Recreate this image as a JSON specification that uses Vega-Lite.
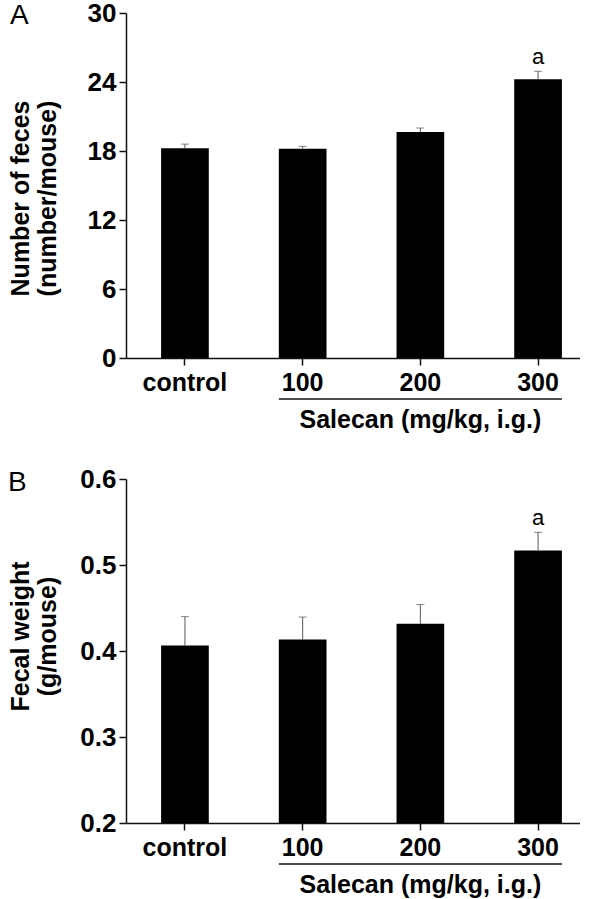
{
  "$schema": "https://vega.github.io/schema/vega-lite/v6.json",
  "autosize": {"type": "pad"},
  "padding": {"left": 8, "top": 0, "right": 0, "bottom": 0},
  "background": "white",
  "bounds": "flush",
  "spacing": 121,
  "config": {
    "view": {"stroke": null},
    "font": "Liberation Sans",
    "axis": {
      "labelFont": "Liberation Sans",
      "labelFontWeight": "bold",
      "labelFontSize": 25,
      "labelColor": "black",
      "titleFont": "Liberation Sans",
      "titleFontWeight": "bold",
      "titleFontSize": 25,
      "titleColor": "black",
      "domainColor": "#111",
      "domainWidth": 1.5,
      "tickColor": "#111",
      "tickWidth": 1.5,
      "tickSize": 7,
      "grid": false
    }
  },
  "datasets": {
    "feces": [
      {"group": "control", "value": 18.23, "err": 18.6, "sig": ""},
      {"group": "100", "value": 18.2, "err": 18.4, "sig": ""},
      {"group": "200", "value": 19.65, "err": 20.0, "sig": ""},
      {"group": "300", "value": 24.23, "err": 24.93, "sig": "a"}
    ],
    "weight": [
      {"group": "control", "value": 0.4065, "err": 0.44, "sig": ""},
      {"group": "100", "value": 0.4135, "err": 0.4395, "sig": ""},
      {"group": "200", "value": 0.4317, "err": 0.454, "sig": ""},
      {"group": "300", "value": 0.517, "err": 0.538, "sig": "a"}
    ],
    "bracket": [
      {"from": "100", "to": "300", "mid": "200", "label": "Salecan (mg/kg, i.g.)"}
    ]
  },
  "vconcat": [
    {
      "width": 454,
      "height": 345,
      "title": {"text": "A", "anchor": "start", "frame": "group", "orient": "top", "offset": 0, "dx": -116, "dy": 52, "baseline": "alphabetic", "fontSize": 28, "fontWeight": "normal", "font": "Liberation Sans", "color": "black"},
      "layer": [
        {
          "data": {"name": "feces"},
          "mark": {"type": "bar", "color": "black"},
          "encoding": {
            "x": {"field": "group", "type": "nominal", "sort": ["control", "100", "200", "300"],
              "scale": {"domain": ["control", "100", "200", "300"], "paddingInner": 0.595, "paddingOuter": 0.226, "align": 0.66},
              "axis": {"title": null, "labelAngle": 0, "labelPadding": 5}},
            "y": {"field": "value", "type": "quantitative",
              "scale": {"domain": [0, 30], "nice": false},
              "axis": {"values": [0, 6, 12, 18, 24, 30], "labelPadding": 3, "labelFontSize": 26, "title": ["Number of feces", "(number/mouse)"], "titleX": -106, "titleY": 185, "titleAngle": -90, "titleAlign": "center", "titleBaseline": "middle", "titleLineHeight": 27}}
          }
        },
        {
          "data": {"name": "feces"},
          "mark": {"type": "rule", "color": "#555", "strokeWidth": 1},
          "encoding": {
            "x": {"field": "group", "type": "nominal", "sort": ["control", "100", "200", "300"]},
            "y": {"field": "value", "type": "quantitative"},
            "y2": {"field": "err"}
          }
        },
        {
          "data": {"name": "feces"},
          "mark": {"type": "tick", "color": "#555", "thickness": 1, "size": 8, "orient": "horizontal"},
          "encoding": {
            "x": {"field": "group", "type": "nominal", "sort": ["control", "100", "200", "300"]},
            "y": {"field": "err", "type": "quantitative"}
          }
        },
        {
          "data": {"name": "feces"},
          "mark": {"type": "text", "baseline": "bottom", "dy": -2, "fontSize": 22, "font": "Liberation Sans", "color": "black"},
          "encoding": {
            "x": {"field": "group", "type": "nominal", "sort": ["control", "100", "200", "300"]},
            "y": {"field": "err", "type": "quantitative"},
            "text": {"field": "sig"}
          }
        },
        {
          "data": {"name": "bracket"},
          "mark": {"type": "rule", "color": "#111", "strokeWidth": 1.5},
          "encoding": {
            "x": {"field": "from", "type": "nominal", "bandPosition": 0},
            "x2": {"field": "to", "bandPosition": 1},
            "y": {"datum": 0, "type": "quantitative"},
            "yOffset": {"value": 41}
          }
        },
        {
          "data": {"name": "bracket"},
          "mark": {"type": "text", "baseline": "alphabetic", "fontSize": 25, "fontWeight": "bold", "font": "Liberation Sans", "color": "black"},
          "encoding": {
            "x": {"field": "mid", "type": "nominal"},
            "y": {"datum": 0, "type": "quantitative"},
            "yOffset": {"value": 70},
            "text": {"field": "label"}
          }
        }
      ]
    },
    {
      "width": 454,
      "height": 344,
      "title": {"text": "B", "anchor": "start", "frame": "group", "orient": "top", "offset": 0, "dx": -118, "dy": 53, "baseline": "alphabetic", "fontSize": 28, "fontWeight": "normal", "font": "Liberation Sans", "color": "black"},
      "layer": [
        {
          "data": {"name": "weight"},
          "mark": {"type": "bar", "color": "black"},
          "encoding": {
            "x": {"field": "group", "type": "nominal", "sort": ["control", "100", "200", "300"],
              "scale": {"domain": ["control", "100", "200", "300"], "paddingInner": 0.595, "paddingOuter": 0.226, "align": 0.66},
              "axis": {"title": null, "labelAngle": 0, "labelPadding": 5}},
            "y": {"field": "value", "type": "quantitative",
              "scale": {"domain": [0.2, 0.6], "nice": false, "zero": false},
              "axis": {"values": [0.2, 0.3, 0.4, 0.5, 0.6], "format": ".1f", "labelPadding": 3, "labelFontSize": 26, "title": ["Fecal weight", "(g/mouse)"], "titleX": -106, "titleY": 157, "titleAngle": -90, "titleAlign": "center", "titleBaseline": "middle", "titleLineHeight": 27}},
            "y2": {"datum": 0.2}
          }
        },
        {
          "data": {"name": "weight"},
          "mark": {"type": "rule", "color": "#555", "strokeWidth": 1},
          "encoding": {
            "x": {"field": "group", "type": "nominal", "sort": ["control", "100", "200", "300"]},
            "y": {"field": "value", "type": "quantitative"},
            "y2": {"field": "err"}
          }
        },
        {
          "data": {"name": "weight"},
          "mark": {"type": "tick", "color": "#555", "thickness": 1, "size": 8, "orient": "horizontal"},
          "encoding": {
            "x": {"field": "group", "type": "nominal", "sort": ["control", "100", "200", "300"]},
            "y": {"field": "err", "type": "quantitative"}
          }
        },
        {
          "data": {"name": "weight"},
          "mark": {"type": "text", "baseline": "bottom", "dy": -2, "fontSize": 22, "font": "Liberation Sans", "color": "black"},
          "encoding": {
            "x": {"field": "group", "type": "nominal", "sort": ["control", "100", "200", "300"]},
            "y": {"field": "err", "type": "quantitative"},
            "text": {"field": "sig"}
          }
        },
        {
          "data": {"name": "bracket"},
          "mark": {"type": "rule", "color": "#111", "strokeWidth": 1.5},
          "encoding": {
            "x": {"field": "from", "type": "nominal", "bandPosition": 0},
            "x2": {"field": "to", "bandPosition": 1},
            "y": {"datum": 0.2, "type": "quantitative"},
            "yOffset": {"value": 41}
          }
        },
        {
          "data": {"name": "bracket"},
          "mark": {"type": "text", "baseline": "alphabetic", "fontSize": 25, "fontWeight": "bold", "font": "Liberation Sans", "color": "black"},
          "encoding": {
            "x": {"field": "mid", "type": "nominal"},
            "y": {"datum": 0.2, "type": "quantitative"},
            "yOffset": {"value": 70},
            "text": {"field": "label"}
          }
        }
      ]
    }
  ]
}
